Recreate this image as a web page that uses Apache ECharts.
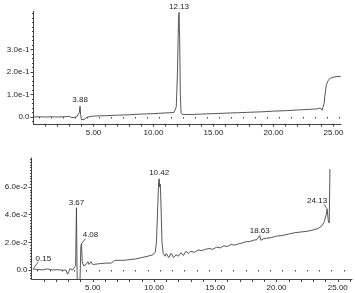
<!DOCTYPE html>
<html>
<head>
<meta charset="utf-8">
<script src="https://cdn.jsdelivr.net/npm/echarts@6/dist/echarts.min.js"></script>
<style>html,body{margin:0;padding:0;background:#fff}#c{width:355px;height:293px}</style>
</head>
<body>
<div id="c"></div>
<script>
// ---- data ----
const topTrace = [[0,0],[0.5,0.001],[1,0],[1.5,0.001],[2,0],[2.5,0.001],[2.8,0.002],[2.9,0.007],[2.97,0.003],[3.05,0],[3.2,-0.003],[3.4,-0.002],[3.6,0.001],[3.75,0.005],[3.82,0.02],[3.88,0.048],[3.93,0.01],[4.0,-0.012],[4.1,-0.018],[4.25,-0.01],[4.45,-0.002],[4.7,0.002],[5,0.004],[6,0.006],[7,0.008],[8,0.010],[9,0.013],[10,0.015],[11,0.018],[11.7,0.02],[11.9,0.045],[12.0,0.2],[12.08,0.42],[12.13,0.465],[12.18,0.35],[12.24,0.1],[12.3,0.02],[12.4,0.011],[13,0.011],[14,0.013],[15,0.015],[16,0.017],[17,0.019],[18,0.021],[19,0.023],[20,0.026],[21,0.028],[22,0.031],[23,0.034],[23.6,0.036],[23.9,0.04],[24.05,0.03],[24.12,0.027],[24.22,0.06],[24.3,0.1],[24.4,0.14],[24.55,0.162],[24.75,0.172],[25.0,0.177],[25.3,0.18],[25.6,0.18]];
const bottomTrace = [[0.1,0.0007],[0.5,0.0004],[0.9,0.0001],[1.3,0.0008],[1.7,0.0],[2.1,0.0003],[2.5,-0.0002],[2.8,0.0],[2.95,-0.003],[3.05,-0.001],[3.15,0.001],[3.35,0.0],[3.5,0.001],[3.6,0.003],[3.67,0.045],[3.72,0.0],[3.74,-0.012],[3.95,-0.012],[3.98,0.0],[4.03,0.017],[4.08,0.019],[4.14,0.006],[4.25,0.003],[4.45,0.004],[4.6,0.006],[4.7,0.004],[4.85,0.006],[5.0,0.004],[5.5,0.0045],[6.0,0.005],[6.5,0.005],[6.8,0.007],[7.5,0.007],[8.0,0.0075],[8.5,0.008],[9.0,0.009],[9.5,0.010],[9.9,0.011],[10.1,0.013],[10.2,0.02],[10.3,0.045],[10.38,0.064],[10.42,0.066],[10.47,0.06],[10.51,0.062],[10.56,0.05],[10.65,0.02],[10.75,0.012],[10.9,0.010],[11.0,0.012],[11.2,0.009],[11.4,0.012],[11.6,0.009],[11.8,0.011],[12.0,0.010],[12.2,0.0125],[12.4,0.0105],[12.6,0.0135],[12.8,0.012],[13.0,0.0135],[13.3,0.0128],[13.6,0.0145],[13.9,0.014],[14.2,0.015],[14.5,0.0155],[14.8,0.015],[15.1,0.0165],[15.4,0.016],[15.7,0.0175],[16.0,0.017],[16.3,0.0185],[16.6,0.018],[16.9,0.019],[17.2,0.0195],[17.5,0.0205],[17.8,0.0205],[18.1,0.0215],[18.4,0.022],[18.55,0.023],[18.63,0.025],[18.72,0.0215],[18.9,0.0225],[19.2,0.023],[19.6,0.0235],[20.0,0.0245],[20.5,0.025],[21.0,0.026],[21.5,0.027],[22.0,0.0275],[22.5,0.028],[23.0,0.029],[23.4,0.030],[23.7,0.032],[23.9,0.035],[24.05,0.040],[24.13,0.044],[24.22,0.036],[24.3,0.034],[24.36,0.073]];

const topPeakTimes = [3.88, 12.13];
const topPeakValues = [0.048, 0.465];
const bottomPeakTimes = [0.15, 3.67, 4.08, 10.42, 18.63, 24.13];
const bottomPeakValues = [0.001, 0.045, 0.019, 0.066, 0.025, 0.044];

const xTickLabels = [5, 10, 15, 20, 25];
const topYTickLabels = [0, 0.1, 0.2, 0.3];
const bottomYTickLabels = [0, 0.02, 0.04, 0.06];

// ---- style ----
const INK = '#444';
const TXT = '#222';
const FONT = 'Liberation Sans, Arial, sans-serif';
// per-label placement in px relative to the peak: text centre, optional leader end
const topLabelStyle = [{text: [0, -6]}, {text: [0, -6]}];
const bottomLabelStyle = [
  {text: [10, -10], leader: [5, -7]},
  {text: [0, -5]},
  {text: [9, -9], leader: [4, -5]},
  {text: [0, -6]},
  {text: [0, -5]},
  {text: [-10, -8], leader: [-3, -5]}
];

function range(a, b, step) { const r = []; for (let v = a; v <= b + 1e-9; v += step) r.push(+v.toFixed(6)); return r; }
function fmtY(v) {
  if (Math.abs(v) < 1e-12) return '0.0';
  const e = Math.floor(Math.log10(Math.abs(v)) + 1e-9);
  const m = v / Math.pow(10, e);
  return m.toFixed(1) + 'e' + e;
}

function xAxes(grid, max) {
  return [
    {type: 'value', gridIndex: grid, min: 0, max: max,
     axisLine: {show: true, onZero: false, lineStyle: {color: INK, width: 1}},
     axisTick: {show: true, customValues: range(1, Math.floor(max), 1), length: 3, lineStyle: {color: INK}},
     axisLabel: {show: true, customValues: xTickLabels, formatter: v => v.toFixed(2), fontSize: 8, color: TXT, fontFamily: FONT, margin: 5},
     splitLine: {show: false}},
    {type: 'value', gridIndex: grid, min: 0, max: max, position: 'bottom',
     axisLine: {show: false}, axisLabel: {show: false}, splitLine: {show: false},
     axisTick: {show: true, customValues: range(0.5, max, 1), length: 1.5, lineStyle: {color: INK}}}
  ];
}
function yAxes(grid, min, max, labels, minorStep) {
  return [
    {type: 'value', gridIndex: grid, min: min, max: max,
     axisLine: {show: true, onZero: false, lineStyle: {color: INK, width: 1}},
     axisTick: {show: true, customValues: labels, length: 3, lineStyle: {color: INK}},
     axisLabel: {show: true, customValues: labels, formatter: fmtY, fontSize: 8, color: TXT, fontFamily: FONT, margin: 4},
     splitLine: {show: false}},
    {type: 'value', gridIndex: grid, min: min, max: max, position: 'left',
     axisLine: {show: false}, axisLabel: {show: false}, splitLine: {show: false},
     axisTick: {show: true, customValues: range(Math.ceil(min / minorStep) * minorStep, max, minorStep), length: 1.5, lineStyle: {color: INK}}}
  ];
}

function peakSeries(xi, yi, times, values, styles) {
  return {
    type: 'custom', xAxisIndex: xi, yAxisIndex: yi, silent: true, clip: false, z: 5,
    data: times.map((t, i) => [t, values[i]]),
    renderItem: (params, api) => {
      const i = params.dataIndex;
      const p = api.coord([api.value(0), api.value(1)]);
      const st = styles[i];
      const children = [];
      if (st.leader) {
        children.push({type: 'line', shape: {x1: p[0], y1: p[1], x2: p[0] + st.leader[0], y2: p[1] + st.leader[1]},
          style: {stroke: INK, lineWidth: 0.8}});
      }
      children.push({type: 'text', x: p[0] + st.text[0], y: p[1] + st.text[1],
        style: {text: times[i].toFixed(2), fill: TXT, font: '8px ' + FONT, align: 'center', verticalAlign: 'middle'}});
      return {type: 'group', children};
    }
  };
}

const chart = echarts.init(document.getElementById('c'), null, {renderer: 'canvas'});
chart.setOption({
  animation: false,
  backgroundColor: '#fff',
  grid: [
    {left: 33.5, top: 11.25, width: 307.5, height: 112.5},
    {left: 31.5, top: 158, width: 320.5, height: 121}
  ],
  xAxis: [...xAxes(0, 25.63), ...xAxes(1, 26.16)],
  yAxis: [...yAxes(0, -0.03, 0.47, topYTickLabels, 0.02), ...yAxes(1, -0.0065, 0.081, bottomYTickLabels, 0.002)],
  series: [
    {type: 'line', xAxisIndex: 0, yAxisIndex: 0, data: topTrace, showSymbol: false, symbol: 'none',
     lineStyle: {color: INK, width: 0.9}, clip: true, silent: true},
    {type: 'line', xAxisIndex: 2, yAxisIndex: 2, data: bottomTrace, showSymbol: false, symbol: 'none',
     lineStyle: {color: INK, width: 0.9}, clip: true, silent: true},
    peakSeries(0, 0, topPeakTimes, topPeakValues, topLabelStyle),
    peakSeries(2, 2, bottomPeakTimes, bottomPeakValues, bottomLabelStyle)
  ]
});
</script>
</body>
</html>
